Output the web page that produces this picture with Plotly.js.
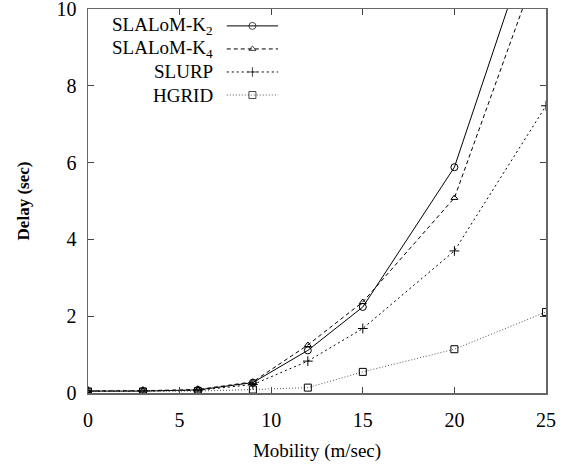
<!DOCTYPE html>
<html>
<head>
<meta charset="utf-8">
<script src="https://cdn.plot.ly/plotly-3.0.1.min.js"></script>
<style>html,body{margin:0;padding:0;background:#fff;}#chart{width:570px;height:467px;}</style>
</head>
<body>
<div id="chart"></div>
<script>
// ---- data ----
var mobility = [0, 3, 6, 9, 12, 15, 20, 25];
var slalomK2 = [0.05, 0.05, 0.08, 0.27, 1.11, 2.24, 5.88, 13.0];
var slalomK4 = [0.05, 0.06, 0.09, 0.29, 1.25, 2.37, 5.08, 11.7];
var slurp    = [0.05, 0.05, 0.07, 0.22, 0.83, 1.68, 3.70, 7.48];
var hgrid    = [0.04, 0.04, 0.05, 0.09, 0.14, 0.55, 1.14, 2.11];
var seriesNames = ['SLALoM-K<sub>2</sub>', 'SLALoM-K<sub>4</sub>', 'SLURP', 'HGRID'];
var xTicks = [0, 5, 10, 15, 20, 25];
var yTicks = [0, 2, 4, 6, 8, 10];

// ---- styles ----
var styles = [
  {dash: 'solid', color: '#000', symbol: 'circle-open', size: 7},
  {dash: '4px,3px', color: '#000', symbol: 'triangle-up-open', size: 6},
  {dash: '2px,3px', color: '#000', symbol: 'cross-thin-open', size: 7},
  {dash: '1px,2px', color: '#555', symbol: 'square-open', size: 7}
];
var allSeries = [slalomK2, slalomK4, slurp, hgrid];
var font = 'Liberation Serif';

var traces = [];
allSeries.forEach(function (vals, i) {
  var s = styles[i];
  traces.push({
    x: mobility, y: vals, type: 'scatter', mode: 'lines+markers',
    line: {color: s.color, width: 1, dash: s.dash},
    marker: {symbol: s.symbol, size: s.size, color: '#000', line: {color: '#000', width: 1}},
    showlegend: false, hoverinfo: 'skip', cliponaxis: true
  });
});

// ---- gnuplot-like key (text left of sample) ----
var keyTextX = 0.278, keyLineX0 = 0.303, keyLineX1 = 0.415, keyTop = 0.956, keyStep = 0.06;
var annotations = [];
allSeries.forEach(function (vals, i) {
  var s = styles[i];
  var yy = keyTop - i * keyStep;
  traces.push({
    x: [keyLineX0, (keyLineX0 + keyLineX1) / 2, keyLineX1], y: [yy, yy, yy],
    xaxis: 'x2', yaxis: 'y2', type: 'scatter', mode: 'lines+markers',
    line: {color: s.color, width: 1, dash: s.dash},
    marker: {symbol: s.symbol, size: [0, s.size, 0], color: '#000', line: {color: '#000', width: [0, 1, 0]}},
    showlegend: false, hoverinfo: 'skip'
  });
  annotations.push({
    xref: 'paper', yref: 'paper', x: keyTextX, y: yy, xanchor: 'right', yanchor: 'middle',
    text: seriesNames[i], showarrow: false, font: {family: font, size: 19, color: '#000'}
  });
});

var layout = {
  width: 570, height: 467,
  margin: {l: 88, r: 24, t: 9, b: 74},
  paper_bgcolor: '#fff', plot_bgcolor: '#fff',
  font: {family: font, size: 19, color: '#000'},
  xaxis: {
    range: [0, 25], tickvals: xTicks, ticktext: xTicks.map(String),
    ticks: 'inside', ticklen: 6, tickcolor: '#444', tickwidth: 1,
    showline: true, linecolor: '#666', linewidth: 1.5, mirror: 'ticks',
    showgrid: false, zeroline: false, ticklabelstandoff: 8, ticklabeloverflow: 'allow',
    tickfont: {family: font, size: 20},
    title: {text: 'Mobility (m/sec)', font: {family: font, size: 19}, standoff: 14}
  },
  yaxis: {
    range: [0, 10], tickvals: yTicks, ticktext: yTicks.map(String),
    ticks: 'inside', ticklen: 6, tickcolor: '#444', tickwidth: 1,
    showline: true, linecolor: '#666', linewidth: 1.5, mirror: 'ticks',
    showgrid: false, zeroline: false, ticklabelstandoff: 6, ticklabeloverflow: 'allow',
    tickfont: {family: font, size: 20},
    title: {text: '<b>Delay (sec)</b>', font: {family: font, size: 17}, standoff: 22}
  },
  xaxis2: {overlaying: 'x', anchor: 'y2', range: [0, 1], visible: false, fixedrange: true},
  yaxis2: {overlaying: 'y', anchor: 'x2', range: [0, 1], visible: false, fixedrange: true},
  annotations: annotations,
  showlegend: false
};

Plotly.newPlot('chart', traces, layout, {staticPlot: true, displayModeBar: false});
</script>
</body>
</html>
